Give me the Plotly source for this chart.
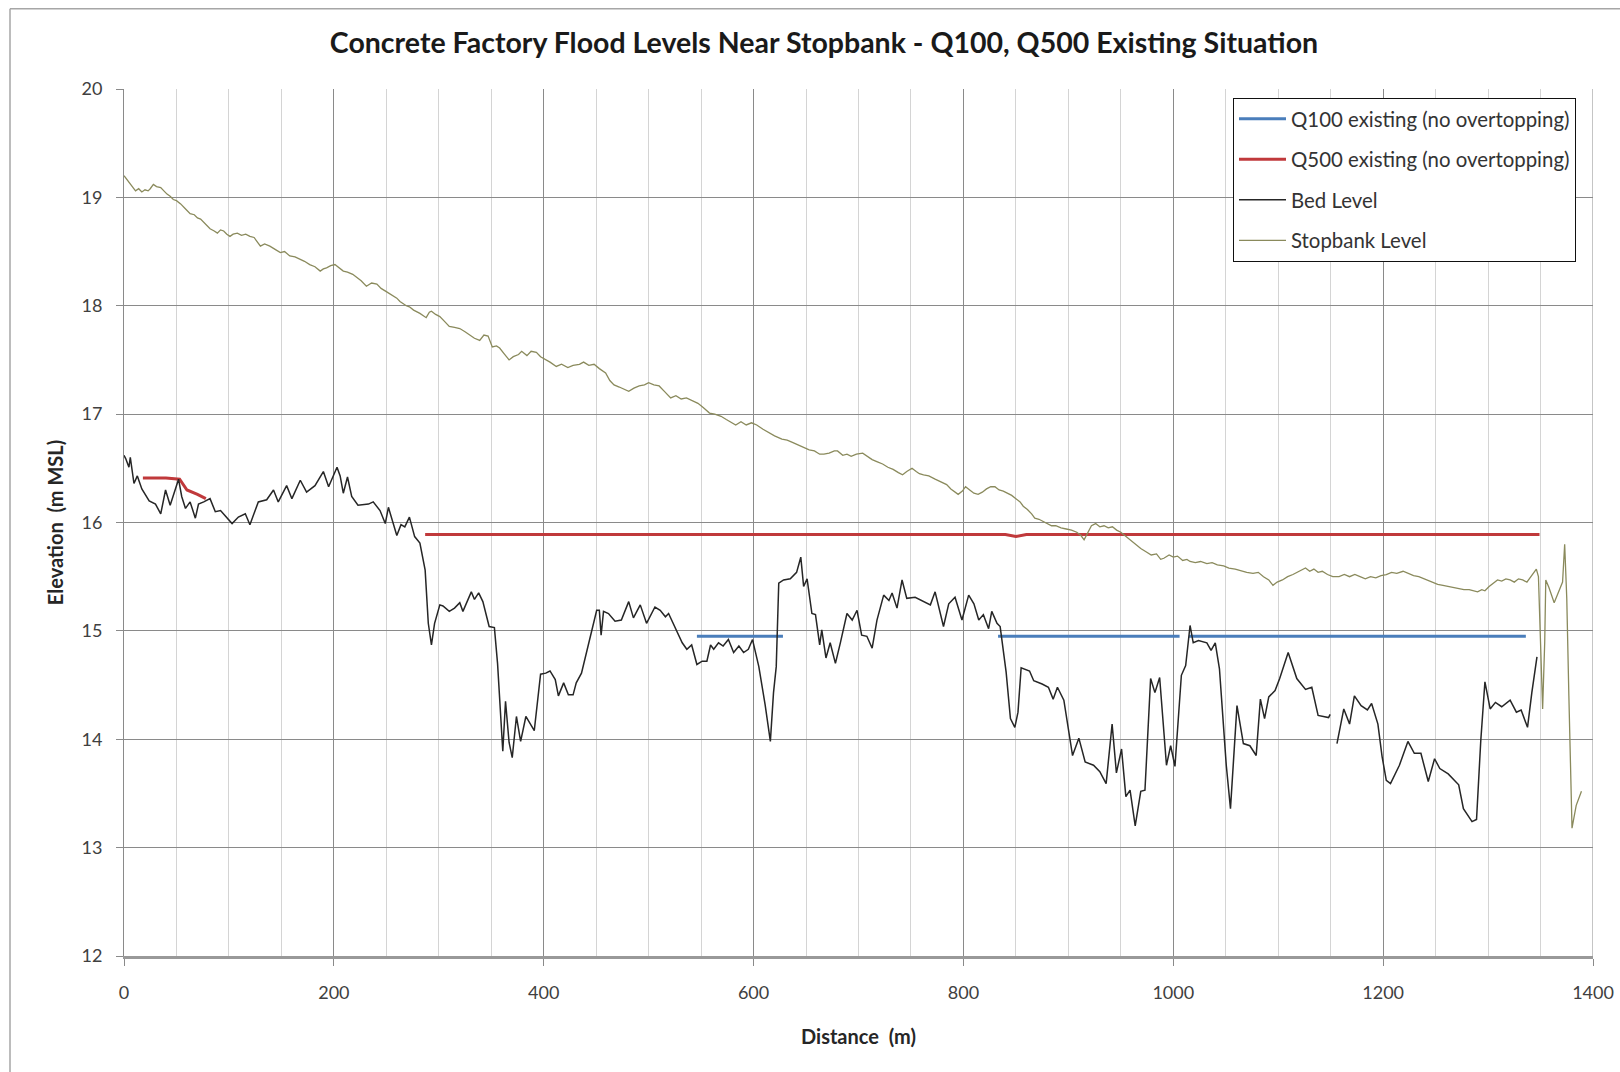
import plotly.graph_objects as go

# ---------------- data ----------------
stop_d = [0, 3, 5, 8, 11, 14, 17, 20, 23, 25, 28, 31, 35, 38, 41, 44, 47, 50, 54, 58, 63, 67, 70, 73, 77, 82, 86, 89, 92, 95,
          98, 101, 104, 108, 112, 116, 120, 124, 127, 130, 134, 139, 144, 149, 153, 158, 163, 168, 172, 177, 182, 187, 190,
          193, 197, 201, 205, 209, 213, 218, 222, 226, 231, 236, 241, 245, 250, 255, 260, 263, 266, 269, 272, 276, 282, 285,
          288, 291, 293, 297, 301, 305, 310, 315, 320, 325, 329, 334, 339, 343, 347, 351, 355, 358, 362, 367, 371, 376, 379,
          384, 388, 393, 397, 401, 406, 412, 417, 423, 428, 434, 438, 443, 448, 453, 459, 463, 467, 472, 477, 481, 486, 491,
          496, 500, 505, 510, 515, 521, 526, 531, 536, 541, 547, 552, 558, 563, 569, 574, 579, 583, 588, 593, 598, 603, 609,
          614, 620, 627, 632, 637, 642, 648, 653, 658, 663, 667, 672, 677, 680, 685, 689, 693, 698, 704, 708, 713, 718, 723,
          728, 733, 738, 742, 746, 751, 755, 758, 762, 767, 773, 778, 784, 788, 792, 795, 799, 802, 806, 810, 814, 818, 822,
          826, 830, 834, 838, 842, 846, 850, 854, 857, 861, 865, 868, 872, 876, 880, 884, 888, 893, 898, 903, 908, 912, 915,
          918, 922, 926, 930, 934, 938, 942, 946, 950, 955, 959, 964, 969, 974, 979, 984, 988, 991, 996, 1000, 1004, 1009,
          1013, 1016, 1021, 1026, 1032, 1037, 1042, 1048, 1053, 1059, 1065, 1070, 1076, 1081, 1086, 1091, 1095, 1099, 1104,
          1109, 1114, 1118, 1122, 1126, 1130, 1134, 1138, 1142, 1147, 1152, 1158, 1163, 1168, 1173, 1178, 1183, 1188, 1193,
          1198, 1203, 1208, 1213, 1219, 1224, 1229, 1234, 1239, 1244, 1248, 1252, 1257, 1262, 1267, 1272, 1277, 1282, 1286,
          1290, 1294, 1297, 1301, 1305, 1309, 1313, 1317, 1321, 1325, 1329, 1333, 1337, 1340, 1343, 1346, 1348, 1350, 1352,
          1354, 1355, 1358, 1363, 1366, 1368, 1371, 1373, 1375, 1377, 1380, 1384, 1389]
stop_v = [19.20, 19.16, 19.13, 19.09, 19.06, 19.08, 19.05, 19.07, 19.06, 19.08, 19.12, 19.10, 19.09, 19.06, 19.03, 19.01,
          18.98, 18.97, 18.94, 18.90, 18.85, 18.84, 18.81, 18.80, 18.76, 18.71, 18.69, 18.67, 18.70, 18.69, 18.66, 18.64,
          18.66, 18.67, 18.65, 18.66, 18.64, 18.63, 18.59, 18.55, 18.57, 18.55, 18.52, 18.49, 18.50, 18.46, 18.45, 18.43,
          18.41, 18.38, 18.36, 18.32, 18.34, 18.35, 18.37, 18.38, 18.35, 18.32, 18.31, 18.29, 18.26, 18.23, 18.18, 18.21,
          18.20, 18.16, 18.13, 18.10, 18.07, 18.04, 18.02, 18.00, 17.99, 17.96, 17.93, 17.91, 17.89, 17.94, 17.95, 17.92,
          17.90, 17.86, 17.81, 17.80, 17.79, 17.76, 17.73, 17.70, 17.68, 17.73, 17.72, 17.62, 17.63, 17.61, 17.56, 17.50,
          17.53, 17.55, 17.58, 17.54, 17.58, 17.57, 17.53, 17.51, 17.48, 17.44, 17.46, 17.43, 17.45, 17.46, 17.48, 17.45,
          17.46, 17.42, 17.38, 17.31, 17.27, 17.25, 17.23, 17.21, 17.24, 17.26, 17.27, 17.29, 17.27, 17.26, 17.21, 17.15,
          17.17, 17.14, 17.15, 17.13, 17.10, 17.06, 17.01, 17.00, 16.98, 16.95, 16.92, 16.90, 16.93, 16.90, 16.92, 16.90,
          16.86, 16.83, 16.80, 16.77, 16.76, 16.74, 16.72, 16.69, 16.67, 16.66, 16.63, 16.63, 16.64, 16.66, 16.66, 16.62,
          16.63, 16.61, 16.63, 16.64, 16.61, 16.58, 16.56, 16.54, 16.51, 16.49, 16.46, 16.44, 16.47, 16.50, 16.47, 16.45,
          16.44, 16.43, 16.40, 16.38, 16.35, 16.31, 16.28, 16.26, 16.29, 16.33, 16.30, 16.27, 16.26, 16.28, 16.31, 16.33,
          16.33, 16.30, 16.29, 16.27, 16.25, 16.22, 16.19, 16.15, 16.12, 16.08, 16.04, 16.03, 16.01, 15.99, 15.97, 15.97,
          15.95, 15.94, 15.93, 15.91, 15.88, 15.84, 15.90, 15.97, 15.99, 15.96, 15.97, 15.95, 15.96, 15.93, 15.91, 15.87,
          15.84, 15.80, 15.76, 15.73, 15.70, 15.71, 15.66, 15.67, 15.70, 15.68, 15.69, 15.65, 15.66, 15.64, 15.63, 15.64,
          15.62, 15.63, 15.61, 15.60, 15.58, 15.57, 15.55, 15.54, 15.53, 15.54, 15.50, 15.47, 15.42, 15.45, 15.47, 15.50,
          15.52, 15.54, 15.56, 15.58, 15.55, 15.57, 15.54, 15.55, 15.52, 15.50, 15.50, 15.52, 15.50, 15.52, 15.50, 15.48,
          15.50, 15.49, 15.51, 15.52, 15.54, 15.53, 15.55, 15.53, 15.51, 15.50, 15.48, 15.46, 15.44, 15.43, 15.42, 15.41,
          15.40, 15.39, 15.38, 15.38, 15.37, 15.36, 15.38, 15.37, 15.41, 15.44, 15.47, 15.46, 15.48, 15.47, 15.45, 15.48,
          15.47, 15.45, 15.49, 15.52, 15.57, 15.50, 14.90, 14.28, 14.90, 15.47, 15.40, 15.26, 15.33, 15.38, 15.45, 15.80,
          15.30, 14.40, 13.18, 13.39, 13.52]

bed_d = [0, 1.6, 4.7, 6, 9.5, 12.7, 17, 24, 30, 35, 39.6, 44, 52, 55, 58.6, 63, 68, 71, 76, 82, 87, 92, 103, 109, 115.6,
         120, 128, 136, 142.5, 147, 155, 160, 168, 174, 182, 190, 195, 203, 206, 209, 213, 217, 223, 233, 237.5, 244, 249,
         252, 260, 264, 267.6, 272, 277, 282, 287, 290, 293, 296, 301, 304, 310, 315, 320, 323, 331, 334, 338, 342, 348,
         353, 356, 361, 363.6, 367, 370, 374, 378, 383, 391, 397, 402, 406, 411, 414, 419, 423.5, 428, 431, 436, 441, 446,
         450.5, 453, 454.7, 457, 461.7, 468, 474, 481, 485.5, 492, 498, 506, 511, 516, 519, 525, 532, 536.4, 541, 546, 551,
         555.5, 559, 562, 566.6, 571, 576, 581, 586, 590.5, 595, 599, 605, 611, 616, 619, 621.6, 624, 628.6, 635, 641, 645,
         647.7, 651, 655.6, 659, 663, 665, 669, 673, 678, 682.7, 689, 694, 698.6, 703, 708, 713, 717.6, 724, 729, 732,
         736.7, 741.5, 746, 754, 762, 768.5, 773, 776.5, 781, 786, 792, 798.6, 805, 810, 814.6, 819, 824, 827, 832, 835,
         840.7, 844.8, 849, 852, 855, 863, 867, 875, 881, 885.5, 889.6, 895.7, 904, 910, 916, 924, 930, 936, 941.7, 945.8,
         950.7, 954.8, 958.8, 963.7, 969, 973, 978.4, 982.5, 987, 993.5, 997.5, 1001.6, 1007.7, 1011.8, 1016, 1019, 1024,
         1032, 1036, 1040, 1044, 1050.5, 1054.5, 1060.7, 1066.8, 1073, 1079, 1083, 1087, 1091, 1097, 1101.4, 1109.5,
         1117.7, 1126, 1132, 1138, 1148, 1149.5, None, 1156, 1162.5, 1168, 1172.6, 1179, 1185, 1189, 1195, 1199, 1203,
         1207, 1215.5, 1223.6, 1229.7, 1236, 1243, 1249, 1254, 1262, 1272, 1276.5, 1284.7, 1289, 1293, 1297, 1302, 1307,
         1313, 1321, 1327, 1331.5, 1337.6, 1341.7, 1346.6]
bed_v = [16.62, 16.59, 16.51, 16.60, 16.36, 16.43, 16.31, 16.20, 16.17, 16.08, 16.30, 16.16, 16.40, 16.24, 16.13, 16.19,
         16.04, 16.17, 16.19, 16.22, 16.10, 16.11, 15.99, 16.05, 16.08, 15.98, 16.19, 16.21, 16.30, 16.19, 16.34, 16.22,
         16.39, 16.28, 16.34, 16.47, 16.33, 16.51, 16.43, 16.27, 16.42, 16.24, 16.16, 16.17, 16.19, 16.11, 15.99, 16.14,
         15.88, 15.98, 15.96, 16.05, 15.87, 15.81, 15.56, 15.07, 14.87, 15.07, 15.24, 15.23, 15.18, 15.21, 15.26, 15.18,
         15.36, 15.29, 15.35, 15.27, 15.04, 15.03, 14.70, 13.89, 14.35, 13.97, 13.83, 14.21, 13.98, 14.21, 14.08, 14.60,
         14.61, 14.63, 14.55, 14.40, 14.52, 14.41, 14.41, 14.52, 14.61, 14.80, 15.01, 15.19, 15.19, 14.96, 15.18, 15.16,
         15.09, 15.10, 15.27, 15.12, 15.24, 15.07, 15.22, 15.19, 15.13, 15.16, 15.04, 14.89, 14.83, 14.87, 14.69, 14.72,
         14.72, 14.87, 14.83, 14.89, 14.86, 14.92, 14.80, 14.86, 14.80, 14.83, 14.92, 14.67, 14.32, 13.98, 14.43, 14.67,
         15.44, 15.47, 15.48, 15.54, 15.68, 15.41, 15.48, 15.16, 15.15, 14.87, 15.01, 14.75, 14.89, 14.70, 14.89, 15.16,
         15.10, 15.19, 14.96, 14.95, 14.84, 15.10, 15.33, 15.28, 15.35, 15.21, 15.47, 15.30, 15.31, 15.27, 15.24, 15.36,
         15.22, 15.04, 15.25, 15.31, 15.10, 15.33, 15.25, 15.10, 15.15, 15.02, 15.18, 15.07, 15.04, 14.62, 14.19, 14.11,
         14.25, 14.66, 14.63, 14.54, 14.51, 14.48, 14.37, 14.48, 14.36, 13.85, 14.01, 13.79, 13.76, 13.70, 13.59, 14.14,
         13.69, 13.91, 13.47, 13.53, 13.20, 13.52, 13.53, 14.56, 14.43, 14.57, 13.76, 13.94, 13.75, 14.59, 14.68, 15.05,
         14.89, 14.91, 14.89, 14.82, 14.89, 14.65, 13.76, 13.36, 14.31, 13.96, 13.94, 13.85, 14.37, 14.19, 14.39, 14.45,
         14.56, 14.80, 14.56, 14.46, 14.48, 14.22, 14.20, 14.23, None, 13.96, 14.28, 14.14, 14.40, 14.31, 14.27, 14.33,
         14.14, 13.84, 13.62, 13.59, 13.76, 13.98, 13.87, 13.87, 13.61, 13.82, 13.73, 13.68, 13.58, 13.36, 13.24, 13.26,
         13.98, 14.53, 14.28, 14.34, 14.30, 14.36, 14.25, 14.27, 14.11, 14.43, 14.76]

q500_d = [18, 40, 53, 60, 70, 78, None, 287, 840, 850, 860, 1349]
q500_v = [16.41, 16.41, 16.40, 16.30, 16.26, 16.22, None, 15.89, 15.89, 15.87, 15.89, 15.89]

q100_d = [546, 628, None, 833, 1006, None, 1015, 1336]
q100_v = [14.95, 14.95, None, 14.95, 14.95, None, 14.95, 14.95]

x_ticks = [0, 200, 400, 600, 800, 1000, 1200, 1400]
y_ticks = [12, 13, 14, 15, 16, 17, 18, 19, 20]

# ---------------- figure ----------------
# the page's default body margin is removed (post_script), so figure px == page px
W, H = 1620, 1072
L, T = 124, 89
R = W - 1593
B = H - 956
pw, ph = W - L - R, H - T - B


def px(page_x):
    return (page_x - L) / pw


def py(page_y):
    return (H - B - page_y) / ph


FONT = "Lato"
GRID = "#8a8a8a"

fig = go.Figure()
fig.add_trace(go.Scatter(x=q100_d, y=q100_v, mode="lines", name="Q100 existing (no overtopping)",
                         line=dict(color="#4A7EBB", width=3), legendgroup="a", connectgaps=False))
fig.add_trace(go.Scatter(x=q500_d, y=q500_v, mode="lines", name="Q500 existing (no overtopping)",
                         line=dict(color="#C0393B", width=3), legendgroup="b", connectgaps=False))
fig.add_trace(go.Scatter(x=bed_d, y=bed_v, mode="lines", name="Bed Level",
                         line=dict(color="#262626", width=1.5), legendgroup="c", connectgaps=False))
fig.add_trace(go.Scatter(x=stop_d, y=stop_v, mode="lines", name="Stopbank Level",
                         line=dict(color="#8A8A5C", width=1.3), legendgroup="d"))

fig.update_layout(
    width=W, height=H,
    margin=dict(l=L, r=R, t=T, b=B, autoexpand=False),
    paper_bgcolor="white", plot_bgcolor="white",
    font=dict(family=FONT, color="#333333", size=18),
    title=dict(text="<b>Concrete Factory Flood Levels Near Stopbank - Q100, Q500 Existing Situation</b>",
               x=824 / W, xanchor="center", y=1 - 43 / H, yanchor="middle",
               font=dict(family=FONT, size=28.5, color="#1a1a1a")),
    showlegend=True,
    legend=dict(x=px(1233), y=py(98), xanchor="left", yanchor="top",
                bgcolor="white", bordercolor="#111111", borderwidth=1,
                font=dict(family=FONT, size=20.4, color="#333333"),
                tracegroupgap=11, traceorder="grouped", itemwidth=47),
    xaxis=dict(range=[0, 1400], tickvals=x_ticks, ticktext=[str(v) for v in x_ticks],
               showgrid=True, gridcolor=GRID, gridwidth=1,
               minor=dict(dtick=50, tick0=0, showgrid=True, gridcolor="#d4d4d4", gridwidth=1),
               showline=True, linecolor="#999999", linewidth=2.5,
               ticks="outside", ticklen=7, tickcolor=GRID,
               ticklabelstandoff=12, ticklabeloverflow="allow",
               zeroline=False,
               title=dict(text="<b>Distance\u00a0 (m)</b>", font=dict(size=20, color="#262626"), standoff=28),
               tickfont=dict(size=18, color="#404040")),
    yaxis=dict(range=[12, 20], tickvals=y_ticks, ticktext=[str(v) for v in y_ticks],
               showgrid=True, gridcolor=GRID, gridwidth=1,
               showline=True, linecolor=GRID, linewidth=1,
               ticks="outside", ticklen=7, tickcolor=GRID,
               ticklabelstandoff=10,
               zeroline=False,
               title=dict(text="<b>Elevation\u00a0 (m MSL)</b>", font=dict(size=20, color="#262626"), standoff=12),
               tickfont=dict(size=18, color="#404040")),
)

# right edge of the plot area (gridline at the last x tick)
fig.add_shape(type="line", xref="x", yref="paper", x0=x_ticks[-1], x1=x_ticks[-1], y0=0, y1=1,
              line=dict(color=GRID, width=1), layer="below")

# outer chart frame (top and left edges visible in the reference)
fig.add_shape(type="line", xref="paper", yref="paper", x0=px(10), x1=px(1640), y0=py(8.8), y1=py(8.8),
              line=dict(color="#a6a6a6", width=1.5))
fig.add_shape(type="line", xref="paper", yref="paper", x0=px(10), x1=px(10), y0=py(8.8), y1=py(1080),
              line=dict(color="#a6a6a6", width=1.5))

fig.write_html("out.html",
               config={"displayModeBar": False},
               post_script="document.body.style.margin='0px';document.body.style.overflow='hidden';")
